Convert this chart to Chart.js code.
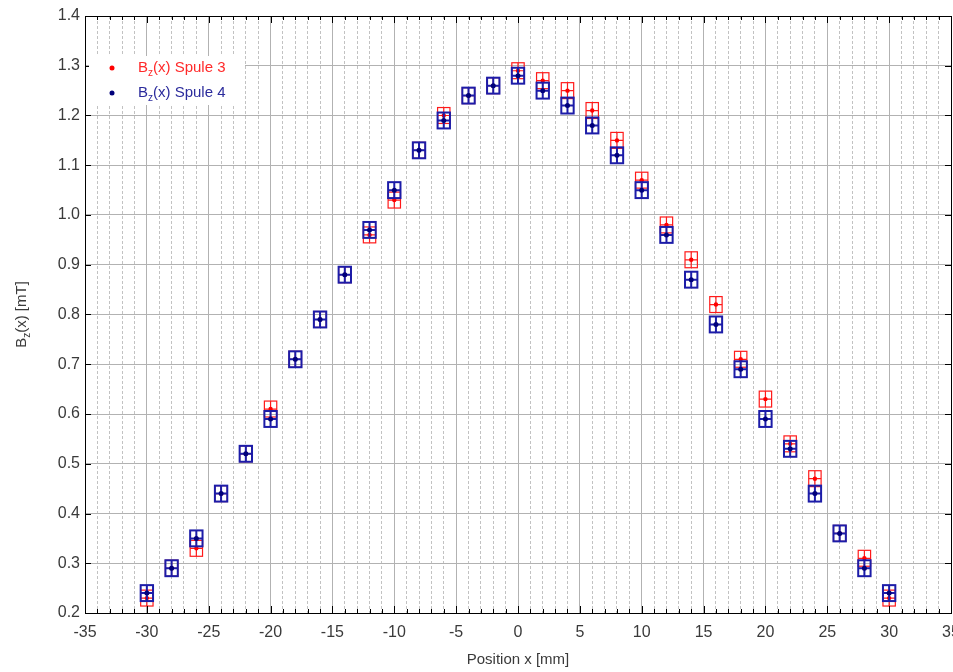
<!DOCTYPE html>
<html>
<head>
<meta charset="utf-8">
<title>Bz(x) Spule 3 / Spule 4</title>
<script src="https://cdn.jsdelivr.net/npm/chart.js@4.4.0/dist/chart.umd.min.js"></script>
<style>
  body { margin: 0; overflow: hidden; background: #fff; }
  #wrap { width: 975px; height: 672px; }
</style>
</head>
<body>
<div id="wrap"><canvas id="bzChart" width="975" height="672"></canvas></div>
<script>
// measured field along the axis, position in mm, B in mT
var positions = [-30, -28, -26, -24, -22, -20, -18, -16, -14, -12, -10, -8, -6, -4, -2,
  0, 2, 4, 6, 8, 10, 12, 14, 16, 18, 20, 22, 24, 26, 28, 30];
var spule3 = [0.23, 0.29, 0.33, 0.44, 0.52, 0.61, 0.71, 0.79, 0.88, 0.96, 1.03, 1.13, 1.20, 1.24, 1.26,
  1.29, 1.27, 1.25, 1.21, 1.15, 1.07, 0.98, 0.91, 0.82, 0.71, 0.63, 0.54, 0.47, 0.36, 0.31, 0.23];
var spule4 = [0.24, 0.29, 0.35, 0.44, 0.52, 0.59, 0.71, 0.79, 0.88, 0.97, 1.05, 1.13, 1.19, 1.24, 1.26,
  1.28, 1.25, 1.22, 1.18, 1.12, 1.05, 0.96, 0.87, 0.78, 0.69, 0.59, 0.53, 0.44, 0.36, 0.29, 0.24];
var seriesNames = ["Spule 3", "Spule 4"];
// measurement uncertainty
var xErr = 0.5;   // mm
var yErr = 0.016; // mT

var xMin = -35, xMax = 35, yMin = 0.2, yMax = 1.4;

var FONT = "'Liberation Sans', Arial, sans-serif";
var TEXT = "#3a3a3a";

function toPoints(ys) {
  var out = [];
  for (var i = 0; i < positions.length; i++) out.push({ x: positions[i], y: ys[i] });
  return out;
}

// box + cross error bars, drawn before each dataset's dots
var errorBoxes = {
  id: "errorBoxes",
  beforeDatasetDraw: function(chart, args) {
    var ds = chart.data.datasets[args.index];
    var xs = chart.scales.x, ys = chart.scales.y;
    var ctx = chart.ctx;
    ctx.save();
    ctx.strokeStyle = ds.boxColor;
    ctx.lineWidth = ds.boxLine;
    ds.data.forEach(function(p) {
      var l = xs.getPixelForValue(p.x - xErr), r = xs.getPixelForValue(p.x + xErr);
      var t = ys.getPixelForValue(p.y + yErr), b = ys.getPixelForValue(p.y - yErr);
      var cx = xs.getPixelForValue(p.x), cy = ys.getPixelForValue(p.y);
      ctx.strokeRect(l, t, r - l, b - t);
      ctx.beginPath();
      ctx.moveTo(l, cy); ctx.lineTo(r, cy);
      ctx.moveTo(cx, t); ctx.lineTo(cx, b);
      ctx.stroke();
    });
    ctx.restore();
  }
};

// frame, inward ticks, y title with subscript, legend
var frame = {
  id: "frame",
  afterDraw: function(chart) {
    var ctx = chart.ctx, a = chart.chartArea;
    var xs = chart.scales.x, ys = chart.scales.y;
    ctx.save();
    ctx.strokeStyle = "#000";
    ctx.lineWidth = 1;
    ctx.strokeRect(Math.round(a.left) + 0.5, Math.round(a.top) + 0.5,
      Math.round(a.right - a.left), Math.round(a.bottom - a.top));

    ctx.beginPath();
    xs.ticks.forEach(function(t) {
      var px = Math.round(xs.getPixelForValue(t.value)) + 0.5;
      var len = (t.value % 5 === 0) ? 7 : 4;
      ctx.moveTo(px, a.bottom); ctx.lineTo(px, a.bottom - len);
      ctx.moveTo(px, a.top); ctx.lineTo(px, a.top + len);
    });
    ys.ticks.forEach(function(t) {
      var py = Math.round(ys.getPixelForValue(t.value)) + 0.5;
      ctx.moveTo(a.left, py); ctx.lineTo(a.left + 6, py);
      ctx.moveTo(a.right, py); ctx.lineTo(a.right - 6, py);
    });
    ctx.stroke();

    // y axis title: B_z(x) [mT]
    ctx.fillStyle = TEXT;
    ctx.textBaseline = "middle";
    ctx.font = "15px " + FONT;
    var w1 = ctx.measureText("B").width;
    var w3 = ctx.measureText("(x) [mT]").width;
    ctx.font = "10px " + FONT;
    var w2 = ctx.measureText("z").width;
    var total = w1 + w2 + w3;
    ctx.translate(22, (a.top + a.bottom) / 2);
    ctx.rotate(-Math.PI / 2);
    ctx.textAlign = "left";
    ctx.font = "15px " + FONT;
    ctx.fillText("B", -total / 2, 0);
    ctx.font = "10px " + FONT;
    ctx.fillText("z", -total / 2 + w1, 5);
    ctx.font = "15px " + FONT;
    ctx.fillText("(x) [mT]", -total / 2 + w1 + w2, 0);
    ctx.restore();

    // legend
    ctx.save();
    ctx.fillStyle = "#fff";
    ctx.fillRect(a.left + 4, a.top + 40, 156, 49);
    var rows = [
      { ds: chart.data.datasets[1], y: a.top + 52 },
      { ds: chart.data.datasets[0], y: a.top + 77 }
    ];
    rows.forEach(function(r) {
      ctx.fillStyle = r.ds.pointBackgroundColor;
      ctx.beginPath();
      ctx.arc(a.left + 27, r.y, 2.5, 0, Math.PI * 2);
      ctx.fill();
      ctx.fillStyle = r.ds.legendColor;
      ctx.textBaseline = "middle";
      var x0 = a.left + 53;
      ctx.font = "15px " + FONT;
      ctx.fillText("B", x0, r.y);
      var wb = ctx.measureText("B").width;
      ctx.font = "10px " + FONT;
      ctx.fillText("z", x0 + wb, r.y + 5);
      var wz = ctx.measureText("z").width;
      ctx.font = "15px " + FONT;
      ctx.fillText("(x) " + r.ds.label, x0 + wb + wz, r.y);
    });
    ctx.restore();
  }
};

var ctx = document.getElementById("bzChart");

var bzChart = new Chart(ctx, {
  type: "scatter",
  data: {
    datasets: [{
      label: seriesNames[1],
      data: toPoints(spule4),
      order: 0,
      pointRadius: 2.5,
      pointBackgroundColor: "#00007a",
      pointBorderWidth: 0,
      boxColor: "#1c1ca8",
      boxLine: 2,
      legendColor: "#2b2b9c"
    }, {
      label: seriesNames[0],
      data: toPoints(spule3),
      order: 1,
      pointRadius: 2.2,
      pointBackgroundColor: "#ff0000",
      pointBorderWidth: 0,
      boxColor: "#ff1a1a",
      boxLine: 1.2,
      legendColor: "#ff2a2a"
    }]
  },
  options: {
    responsive: false,
    animation: false,
    layout: { padding: { top: 16, right: 24, left: 0, bottom: 0 } },
    plugins: { legend: { display: false }, tooltip: { enabled: false } },
    scales: {
      x: {
        type: "linear", min: xMin, max: xMax,
        afterFit: function(s) { s.height = 59; },
        ticks: {
          stepSize: 1, autoSkip: false, maxRotation: 0, padding: 10,
          color: TEXT, font: { family: FONT, size: 16 },
          callback: function(v) { return v % 5 === 0 ? v : ""; }
        },
        grid: {
          drawTicks: false, lineWidth: 1,
          color: function(c) { return c.tick && c.tick.value % 5 === 0 ? "#b2b2b2" : "#c2c2c2"; }
        },
        border: {
          display: false,
          dash: function(c) { return c.tick && c.tick.value % 5 !== 0 ? [3, 2] : []; }
        },
        title: {
          display: true, text: "Position x [mm]", color: TEXT,
          font: { family: FONT, size: 15 }, padding: { top: 2, bottom: 3 }
        }
      },
      y: {
        min: yMin, max: yMax,
        afterFit: function(s) { s.width = 85; },
        ticks: {
          stepSize: 0.1, padding: 5, color: TEXT, font: { family: FONT, size: 16 },
          callback: function(v) { return v.toFixed(1); }
        },
        grid: { drawTicks: false, color: "#b2b2b2", lineWidth: 1 },
        border: { display: false }
      }
    }
  },
  plugins: [errorBoxes, frame]
});
</script>
</body>
</html>
